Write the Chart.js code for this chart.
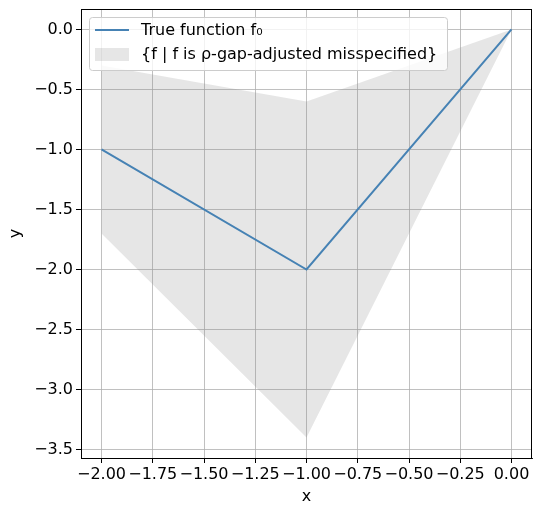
<!DOCTYPE html>
<html>
<head>
<meta charset="utf-8">
<script src="https://cdn.jsdelivr.net/npm/chart.js@4.4.1/dist/chart.umd.min.js"></script>
<style>
  html, body { margin: 0; padding: 0; background: #fff; }
  #wrap { width: 533px; height: 510px; }
</style>
</head>
<body>
<div id="wrap"><canvas id="fnChart" width="533" height="510"></canvas></div>
<script>
const xValues = [-2, -1, 0];
const trueValues = [-1, -2, 0];
const upperValues = [-0.3, -0.6, 0];
const lowerValues = [-1.7, -3.4, 0];
const xTicks = [-2, -1.75, -1.5, -1.25, -1, -0.75, -0.5, -0.25, 0];
const yTicks = [0, -0.5, -1, -1.5, -2, -2.5, -3, -3.5];
const lineLabel = 'True function f\u2080';
const bandLabel = '{f | f is \u03c1-gap-adjusted misspecified}';

const FONT = 'DejaVu Sans';
const FS = 16;
const lineColor = '#4682b4';
const bandColor = 'rgba(128,128,128,0.2)';

function pts(ys) {
  return xValues.map((x, i) => ({ x: x, y: ys[i] }));
}
function fmt(v, d) {
  const s = Math.abs(v).toFixed(d);
  return (v < 0 ? '\u2212' : '') + s;
}

// matplotlib-like frame and legend inside the plot
const framePlugin = {
  id: 'frame',
  afterDraw(chart) {
    const { ctx, chartArea: a } = chart;
    ctx.save();
    ctx.strokeStyle = '#000';
    ctx.lineWidth = 1;
    ctx.strokeRect(a.left + 0.5, a.top + 0.5, a.right - a.left - 1, a.bottom - a.top);

    // legend box
    const bx = 89, by = 17, bw = 358, bh = 53, r = 3;
    ctx.beginPath();
    ctx.roundRect(bx + 0.5, by + 0.5, bw, bh, r);
    ctx.fillStyle = 'rgba(255,255,255,0.8)';
    ctx.fill();
    ctx.strokeStyle = '#cccccc';
    ctx.stroke();

    ctx.strokeStyle = lineColor;
    ctx.lineWidth = 2;
    ctx.beginPath();
    ctx.moveTo(95, 30);
    ctx.lineTo(129, 30);
    ctx.stroke();

    ctx.fillStyle = bandColor;
    ctx.fillRect(95, 48, 34, 13);

    ctx.fillStyle = '#000';
    ctx.font = FS + 'px "' + FONT + '"';
    ctx.textBaseline = 'middle';
    ctx.fillText(chart.data.datasets[0].label, 141, 31);
    ctx.fillText(chart.data.datasets[1].label, 141, 55);
    ctx.restore();
  }
};

new Chart(document.getElementById('fnChart'), {
  type: 'scatter',
  data: {
    datasets: [
      {
        label: lineLabel,
        data: pts(trueValues),
        showLine: true,
        borderColor: lineColor,
        borderWidth: 2,
        pointRadius: 0,
        fill: false,
        order: 0
      },
      {
        label: bandLabel,
        data: pts(upperValues),
        showLine: true,
        borderWidth: 0,
        borderColor: 'rgba(0,0,0,0)',
        backgroundColor: bandColor,
        pointRadius: 0,
        fill: '+1',
        order: 1
      },
      {
        label: 'lower',
        data: pts(lowerValues),
        showLine: true,
        borderWidth: 0,
        borderColor: 'rgba(0,0,0,0)',
        pointRadius: 0,
        fill: false,
        order: 2
      }
    ]
  },
  options: {
    responsive: false,
    animation: false,
    devicePixelRatio: 1,
    layout: { padding: { left: 0, right: 1, top: 9, bottom: 0 } },
    plugins: {
      legend: { display: false },
      tooltip: { enabled: false },
      filler: { propagate: false }
    },
    scales: {
      x: {
        type: 'linear',
        min: -2.1,
        max: 0.1,
        afterBuildTicks: (s) => { s.ticks = xTicks.map(v => ({ value: v })); },
        afterFit: (s) => { s.height = 52; s.paddingLeft = 0; s.paddingRight = 0; },
        border: { display: true, color: '#000', width: 1 },
        grid: { color: '#b0b0b0', lineWidth: 0.8, tickLength: 5, tickColor: '#000', tickWidth: 1 },
        ticks: {
          color: '#000',
          font: { family: FONT, size: FS },
          padding: 2,
          maxRotation: 0,
          autoSkip: false,
          callback: (v) => fmt(v, 2)
        },
        title: {
          display: true,
          text: 'x',
          color: '#000',
          font: { family: FONT, size: FS },
          padding: { top: 0, bottom: 3.4 }
        }
      },
      y: {
        type: 'linear',
        min: -3.57,
        max: 0.17,
        afterBuildTicks: (s) => { s.ticks = yTicks.map(v => ({ value: v })); },
        afterFit: (s) => { s.width = 81; s.paddingTop = 0; s.paddingBottom = 0; },
        border: { display: true, color: '#000', width: 1 },
        grid: { color: '#b0b0b0', lineWidth: 0.8, tickLength: 5, tickColor: '#000', tickWidth: 1 },
        ticks: {
          color: '#000',
          font: { family: FONT, size: FS },
          padding: 3,
          autoSkip: false,
          callback: (v) => fmt(v, 1)
        },
        title: {
          display: true,
          text: 'y',
          color: '#000',
          font: { family: FONT, size: FS },
          padding: { top: 6.4, bottom: 0 }
        }
      }
    }
  },
  plugins: [framePlugin]
});
</script>
</body>
</html>
